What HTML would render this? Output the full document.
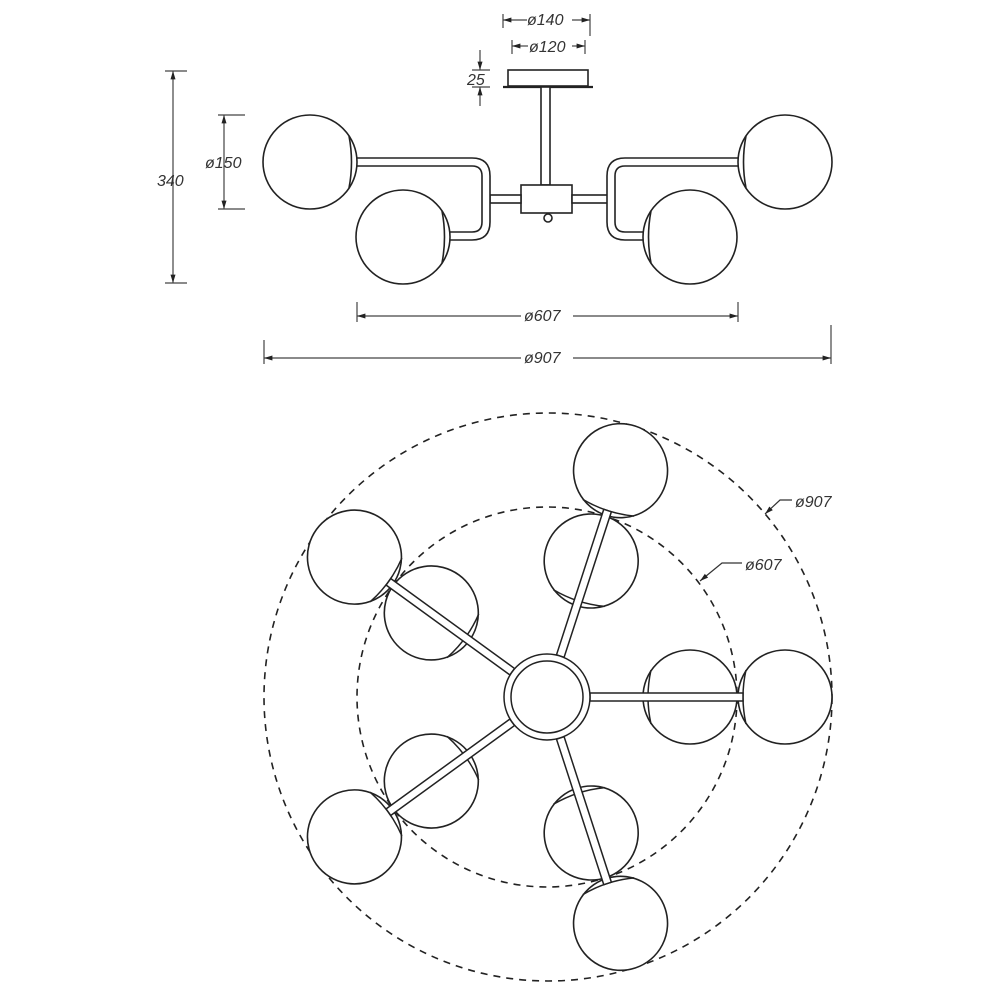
<!DOCTYPE html>
<html><head><meta charset="utf-8"><style>
html,body{margin:0;padding:0;background:#fff}
svg{display:block}
text{font-family:"Liberation Sans",sans-serif;font-style:italic;fill:#333}
</style></head><body>
<svg width="1000" height="1000" viewBox="0 0 1000 1000" xmlns="http://www.w3.org/2000/svg">
<defs>
<marker id="ar" viewBox="0 0 10 10" refX="10" refY="5" markerWidth="7" markerHeight="7" orient="auto-start-reverse"><path d="M0,2 L10,5 L0,8 z" fill="#222"/></marker>
<g id="globe">
  <circle cx="0" cy="0" r="47" fill="#fff" stroke="#222" stroke-width="1.6"/>
</g>
</defs>

<!-- ===== SIDE VIEW ===== -->
<g stroke="#222" stroke-width="1.6" fill="#fff">
  <rect x="508" y="70" width="80" height="16"/>
  <line x1="503" y1="87" x2="593" y2="87" stroke-width="2.2"/>
  <rect x="541" y="87" width="9" height="98"/>
  <rect x="521" y="185" width="51" height="28"/>
  <circle cx="548" cy="218" r="4"/>
  <rect x="490" y="195" width="31" height="8"/>
  <rect x="572" y="195" width="36" height="8"/>
  <path d="M352,158 L472,158 Q490,158 490,176 L490,222 Q490,240 472,240 L446,240 L446,232 L472,232 Q482,232 482,222 L482,176 Q482,166 472,166 L352,166 Z"/>
  <path d="M742,158 L625,158 Q607,158 607,176 L607,222 Q607,240 625,240 L648,240 L648,232 L625,232 Q615,232 615,222 L615,176 Q615,166 625,166 L742,166 Z"/>
  <ellipse cx="310" cy="162" rx="47" ry="47"/>
  <path d="M349,136 Q354,162 349,188" fill="none"/>
  <ellipse cx="403" cy="237" rx="47" ry="47"/>
  <path d="M442,211 Q447,237 442,263" fill="none"/>
  <ellipse cx="785" cy="162" rx="47" ry="47"/>
  <path d="M746,136 Q741,162 746,188" fill="none"/>
  <ellipse cx="690" cy="237" rx="47" ry="47"/>
  <path d="M651,211 Q646,237 651,263" fill="none"/>
</g>

<g stroke="#444" stroke-width="1.2" fill="none">
  <line x1="173" y1="71" x2="173" y2="283" marker-start="url(#ar)" marker-end="url(#ar)"/>
  <line x1="165" y1="71" x2="187" y2="71"/><line x1="165" y1="283" x2="187" y2="283"/>
  <line x1="224" y1="115" x2="224" y2="209" marker-start="url(#ar)" marker-end="url(#ar)"/>
  <line x1="218" y1="115" x2="245" y2="115"/><line x1="218" y1="209" x2="245" y2="209"/>
  <line x1="357" y1="316" x2="521" y2="316" marker-start="url(#ar)"/>
  <line x1="573" y1="316" x2="738" y2="316" marker-end="url(#ar)"/>
  <line x1="357" y1="302" x2="357" y2="322"/><line x1="738" y1="302" x2="738" y2="322"/>
  <line x1="264" y1="358" x2="521" y2="358" marker-start="url(#ar)"/>
  <line x1="573" y1="358" x2="831" y2="358" marker-end="url(#ar)"/>
  <line x1="264" y1="340" x2="264" y2="364"/><line x1="831" y1="325" x2="831" y2="364"/>
  <line x1="503" y1="20" x2="527" y2="20" marker-start="url(#ar)"/>
  <line x1="572" y1="20" x2="590" y2="20" marker-end="url(#ar)"/>
  <line x1="503" y1="14" x2="503" y2="28"/><line x1="590" y1="14" x2="590" y2="36"/>
  <line x1="512" y1="46" x2="528" y2="46" marker-start="url(#ar)"/>
  <line x1="572" y1="46" x2="585" y2="46" marker-end="url(#ar)"/>
  <line x1="512" y1="40" x2="512" y2="54"/><line x1="585" y1="40" x2="585" y2="54"/>
  <line x1="480" y1="50" x2="480" y2="70" marker-end="url(#ar)"/>
  <line x1="480" y1="106" x2="480" y2="87" marker-end="url(#ar)"/>
  <line x1="472" y1="70" x2="490" y2="70"/><line x1="472" y1="87" x2="490" y2="87"/>
</g>
<g font-size="16">
  <text x="157" y="186">340</text>
  <text x="205" y="168">ø150</text>
  <text x="524" y="321">ø607</text>
  <text x="524" y="363">ø907</text>
  <text x="527" y="25">ø140</text>
  <text x="529" y="52">ø120</text>
  <text x="467" y="85">25</text>
</g>

<!-- ===== PLAN VIEW ===== -->
<g fill="none" stroke="#222" stroke-width="1.6" stroke-dasharray="7,6">
  <circle cx="548" cy="697" r="284"/>
  <circle cx="547" cy="697" r="190"/>
</g>

<g transform="translate(547,697)" stroke="#222" stroke-width="1.5" fill="#fff">
  <g transform="rotate(0)">
    <use href="#globe" x="143" y="0"/><path d="M104,-27 Q98,0 104,27"/>
    <use href="#globe" x="238" y="0"/><path d="M199,-27 Q193,0 199,27"/>
    <rect x="43" y="-4" width="153" height="8"/>
  </g>
  <g transform="rotate(-72)">
    <use href="#globe" x="143" y="0"/><path d="M104,-27 Q98,0 104,27"/>
    <use href="#globe" x="238" y="0"/><path d="M199,-27 Q193,0 199,27"/>
    <rect x="43" y="-4" width="153" height="8"/>
  </g>
  <g transform="rotate(72)">
    <use href="#globe" x="143" y="0"/><path d="M104,-27 Q98,0 104,27"/>
    <use href="#globe" x="238" y="0"/><path d="M199,-27 Q193,0 199,27"/>
    <rect x="43" y="-4" width="153" height="8"/>
  </g>
  <g transform="rotate(-144)">
    <use href="#globe" x="143" y="0"/><path d="M104,-27 Q98,0 104,27"/>
    <use href="#globe" x="238" y="0"/><path d="M199,-27 Q193,0 199,27"/>
    <rect x="43" y="-4" width="153" height="8"/>
  </g>
  <g transform="rotate(144)">
    <use href="#globe" x="143" y="0"/><path d="M104,-27 Q98,0 104,27"/>
    <use href="#globe" x="238" y="0"/><path d="M199,-27 Q193,0 199,27"/>
    <rect x="43" y="-4" width="153" height="8"/>
  </g>
  <circle cx="0" cy="0" r="43"/>
  <circle cx="0" cy="0" r="36"/>
</g>

<g stroke="#333" stroke-width="1.2" fill="none">
  <polyline points="792,500 780,500 765,514" marker-end="url(#ar)"/>
  <polyline points="742,563 722,563 700,581" marker-end="url(#ar)"/>
</g>
<g font-size="16">
  <text x="795" y="507">ø907</text>
  <text x="745" y="570">ø607</text>
</g>
</svg>
</body></html>
